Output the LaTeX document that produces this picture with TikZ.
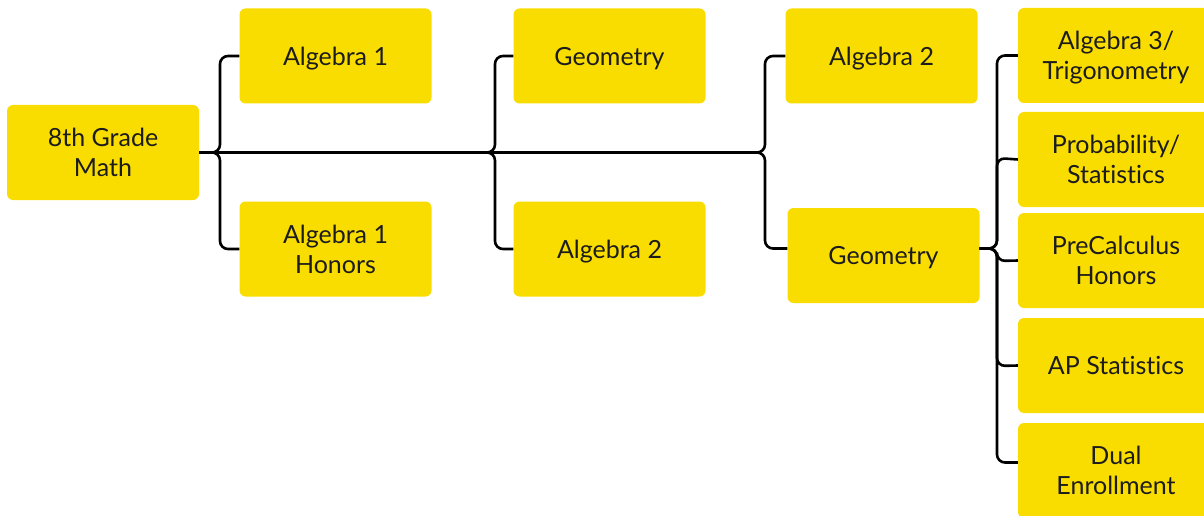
\documentclass[tikz,border=0pt]{standalone}
\usepackage{fontspec}
\setmainfont[Ligatures=NoCommon]{Lato}
\usetikzlibrary{calc}
\definecolor{boxyellow}{RGB}{250,221,0}
\definecolor{ink}{RGB}{28,28,28}
\begin{document}
\begin{tikzpicture}[x=1pt,y=-1pt,
  course/.style={rectangle, rounded corners=6pt, fill=boxyellow, text=ink,
    minimum width=192pt, minimum height=95pt, inner sep=0pt, align=center,
    text depth=0pt, font=\fontsize{25}{30}\selectfont},
  wide/.style={course, minimum width=196pt},
  link/.style={draw=black, line width=2.6pt, rounded corners=8pt}]
\useasboundingbox (0,0) rectangle (1204,516);
\clip (0,0) rectangle (1204,516);

% course boxes
\node[course] (g8)    at (103,152.5) {8th Grade\\Math};
\node[course] (a1)    at (335.5,56)  {Algebra 1};
\node[course] (a1h)   at (335.5,249) {Algebra 1\\Honors};
\node[course] (geoA)  at (609.5,56)  {Geometry};
\node[course] (algA)  at (609.5,249) {Algebra 2};
\node[course] (algB)  at (881.5,56)  {Algebra 2};
\node[course] (geoB)  at (883.5,255.5) {Geometry};
\node[wide]   (trig)  at (1116,55.5)  {Algebra 3/\\Trigonometry};
\node[wide]   (prob)  at (1116,159.5) {Probability/\\Statistics};
\node[wide]   (prec)  at (1116,260.5) {PreCalculus\\Honors};
\node[wide]   (apst)  at (1116,365.5) {AP Statistics};
\node[wide]   (dual)  at (1116,470.5) {Dual\\Enrollment};

% junctions on the main line
\coordinate (hub1) at (445,152.5);
\coordinate (hub2) at (740,152.5);
\coordinate (geoOut) at ($(geoB.east)+(0,-7)$);

% first bracket
\draw[link] (g8.east) -| (220,56) -- (a1.west);
\draw[link] (g8.east) -| (220,249) -- (a1h.west);
\draw[link] (g8.east) -- (hub1);

% second bracket
\draw[link] (hub1) -| (495,56) -- (geoA.west);
\draw[link] (hub1) -| (495,249) -- (algA.west);
\draw[link] (hub1) -- (hub2);

% third bracket
\draw[link] (hub2) -| (765,56) -- (algB.west);
\draw[link] (hub2) -| (765,248.5) -- ($(geoB.west)+(0,-7)$);

% electives after Geometry
\draw[link] (geoOut) -| (997,55.5) -- (trig.west);
\draw[link] (geoOut) -| (997,158) -- (prob.west);
\draw[link] (geoOut) -| (997,261) -- (prec.west);
\draw[link] (geoOut) -| (997,366) -- (apst.west);
\draw[link] (geoOut) -| (997,462.5) -- ($(dual.west)+(0,-8)$);
\end{tikzpicture}
\end{document}
